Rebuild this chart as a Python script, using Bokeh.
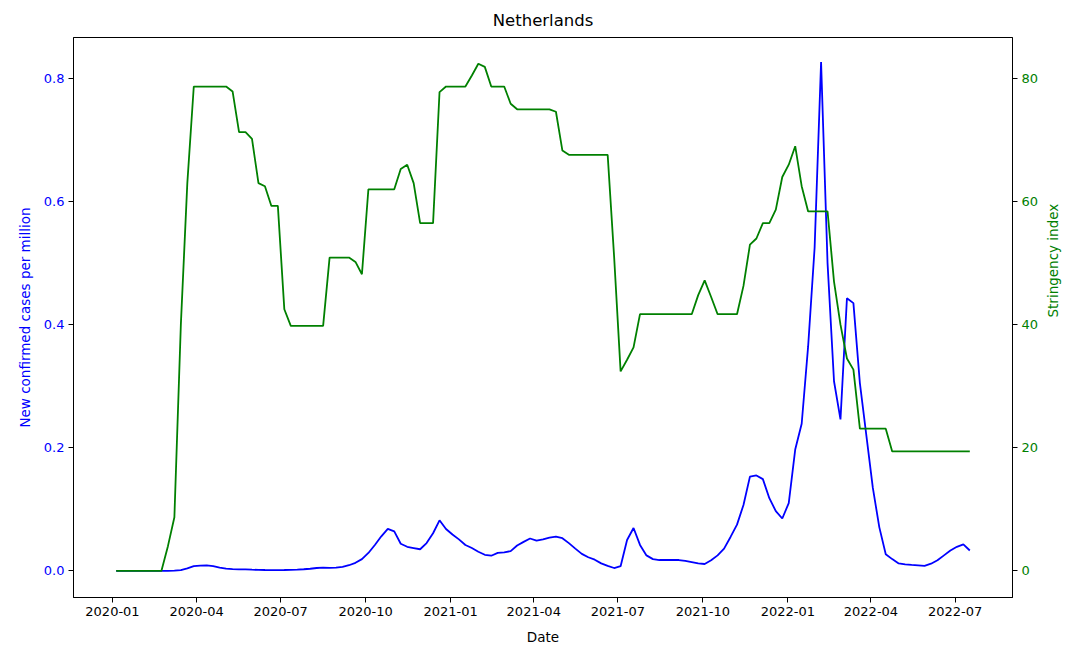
import math
import pandas as pd
from bokeh.plotting import figure
from bokeh.models import LinearAxis, Range1d, FixedTicker, DatetimeTickFormatter, NumeralTickFormatter, ColumnDataSource
from bokeh.embed import file_html
from bokeh.resources import INLINE

# ---- data (weekly, starting 2020-01-05) ----
first_week = "2020-01-05"

new_cases_per_million = [
    0, 0, 0, 0, 0, 0, 0, 0, 0,
    0.0003, 0.001, 0.004, 0.0075, 0.0085, 0.0088, 0.0075, 0.005, 0.0035, 0.0028,
    0.0024, 0.0022, 0.0018, 0.0015, 0.0013, 0.0012, 0.0012, 0.0013, 0.0016, 0.002,
    0.0025, 0.0033, 0.0045, 0.005, 0.0048, 0.005, 0.0065, 0.009, 0.013, 0.019,
    0.029, 0.042, 0.056, 0.068, 0.064, 0.044, 0.039, 0.037, 0.035, 0.045,
    0.061, 0.082, 0.068, 0.059, 0.051, 0.042, 0.037, 0.031, 0.026, 0.0245,
    0.029, 0.030, 0.032, 0.041, 0.047, 0.0525, 0.049, 0.051, 0.054, 0.0555,
    0.053, 0.045, 0.036, 0.0274, 0.022, 0.018, 0.012, 0.008, 0.0045, 0.0075,
    0.05, 0.0695, 0.042, 0.025, 0.019, 0.0175, 0.0175, 0.0178, 0.0175, 0.016,
    0.014, 0.012, 0.011, 0.017, 0.025, 0.036, 0.055, 0.075, 0.107, 0.153,
    0.155, 0.149, 0.118, 0.097, 0.085, 0.110, 0.197, 0.239, 0.365, 0.525,
    0.827, 0.50, 0.308, 0.246, 0.443, 0.435, 0.305, 0.22, 0.135, 0.071,
    0.027, 0.019, 0.012, 0.0105, 0.0095, 0.0088, 0.008, 0.0115, 0.017, 0.025,
    0.033, 0.039, 0.043, 0.033,
]

stringency_index = [
    0, 0, 0, 0, 0, 0, 0, 0,
    4.0, 8.7, 40.0, 63.0,
    78.7, 78.7, 78.7, 78.7, 78.7, 78.7,
    77.9, 71.3, 71.3, 70.2, 63.0, 62.5, 59.3, 59.3, 42.5,
    39.8, 39.8, 39.8, 39.8, 39.8, 39.8,
    50.9, 50.9, 50.9, 50.9, 50.2, 48.2,
    62.0, 62.0, 62.0, 62.0, 62.0,
    65.3, 66.0, 63.0, 56.5, 56.5, 56.5,
    77.8, 78.7, 78.7, 78.7, 78.7, 80.5, 82.4, 81.9, 78.7, 78.7, 78.7,
    75.9, 75.0, 75.0, 75.0, 75.0, 75.0, 75.0, 74.6, 68.3,
    67.6, 67.6, 67.6, 67.6, 67.6, 67.6, 67.6,
    51.0, 32.4, 34.3, 36.3,
    41.7, 41.7, 41.7, 41.7, 41.7, 41.7, 41.7, 41.7, 41.7,
    44.8, 47.2, 44.5, 41.7, 41.7, 41.7, 41.7,
    46.3, 53.0, 54.0, 56.5, 56.5, 58.7, 64.0, 66.0, 69.0, 62.5,
    58.4, 58.4, 58.4, 58.4,
    47.0, 40.0, 34.5, 32.7,
    23.1, 23.1, 23.1, 23.1, 23.1,
    19.4, 19.4, 19.4, 19.4, 19.4, 19.4, 19.4, 19.4, 19.4, 19.4, 19.4, 19.4, 19.4,
]

x_tick_labels = ["2020-01", "2020-04", "2020-07", "2020-10", "2021-01", "2021-04",
                 "2021-07", "2021-10", "2022-01", "2022-04", "2022-07"]
left_ticks = [0.0, 0.2, 0.4, 0.6, 0.8]
right_ticks = [0, 20, 40, 60, 80]

assert len(new_cases_per_million) == len(stringency_index), (len(new_cases_per_million), len(stringency_index))

dates = pd.date_range(first_week, periods=len(stringency_index), freq="7D")
src = ColumnDataSource(dict(date=dates, cases=new_cases_per_million, stringency=stringency_index))

# matplotlib-like 5% margins
span = dates[-1] - dates[0]
x_start = dates[0] - span * 0.05
x_end = dates[-1] + span * 0.05
cmax = max(new_cases_per_million)
FONT = "DejaVu Sans"

p = figure(
    x_axis_type="datetime",
    frame_width=939, frame_height=560,
    min_border_left=73, min_border_right=56, min_border_top=37, min_border_bottom=46,
    x_range=Range1d(x_start, x_end),
    y_range=Range1d(-0.0525 * cmax, 1.048 * cmax),
    output_backend="svg", toolbar_location=None,
    title="Netherlands",
)
p.extra_y_ranges = {"str": Range1d(-0.0525 * 100 * cmax, 1.048 * 100 * cmax)}

p.title.align = "center"
p.title.text_font = FONT
p.title.text_font_size = "16.5px"
p.title.text_font_style = "normal"
p.title.text_color = "black"
p.title.standoff = 16

p.xgrid.visible = False
p.ygrid.visible = False
p.outline_line_color = "black"
p.outline_line_width = 1
p.background_fill_color = "white"
p.border_fill_color = "white"

p.line("date", "cases", source=src, line_color="blue", line_width=1.8)
p.line("date", "stringency", source=src, line_color="green", line_width=1.8, y_range_name="str")

right = LinearAxis(y_range_name="str", axis_label="Stringency index")
p.add_layout(right, "right")


def style(ax, color, label_standoff=8):
    ax.axis_line_color = "black"
    ax.major_tick_line_color = "black"
    ax.minor_tick_line_color = None
    ax.major_tick_out = 5
    ax.major_tick_in = 0
    ax.major_label_text_color = color
    ax.major_label_text_font = FONT
    ax.major_label_text_font_size = "13px"
    ax.axis_label_text_color = color
    ax.axis_label_text_font = FONT
    ax.axis_label_text_font_size = "13.5px"
    ax.axis_label_text_font_style = "normal"
    ax.major_label_standoff = 4
    ax.axis_label_standoff = label_standoff


left = p.yaxis[0]
left.axis_label = "New confirmed cases per million"
left.ticker = FixedTicker(ticks=left_ticks)
left.formatter = NumeralTickFormatter(format="0.0")
style(left, "blue")

right.ticker = FixedTicker(ticks=right_ticks)
style(right, "green", label_standoff=12)
if "axis_label_orientation" in right.properties():
    right.axis_label_orientation = math.pi / 2

xax = p.xaxis[0]
xax.axis_label = "Date"
xax.ticker = FixedTicker(ticks=[pd.Timestamp(t + "-01").value / 1e6 for t in x_tick_labels])
fmt = "%Y-%m"
xax.formatter = DatetimeTickFormatter(years=fmt, months=fmt, days=fmt, hours=fmt,
                                      minutes=fmt, seconds=fmt, milliseconds=fmt,
                                      microseconds=fmt, hourmin=fmt, minsec=fmt)
style(xax, "black", label_standoff=10)

open("out.html", "w").write(file_html(p, INLINE))
